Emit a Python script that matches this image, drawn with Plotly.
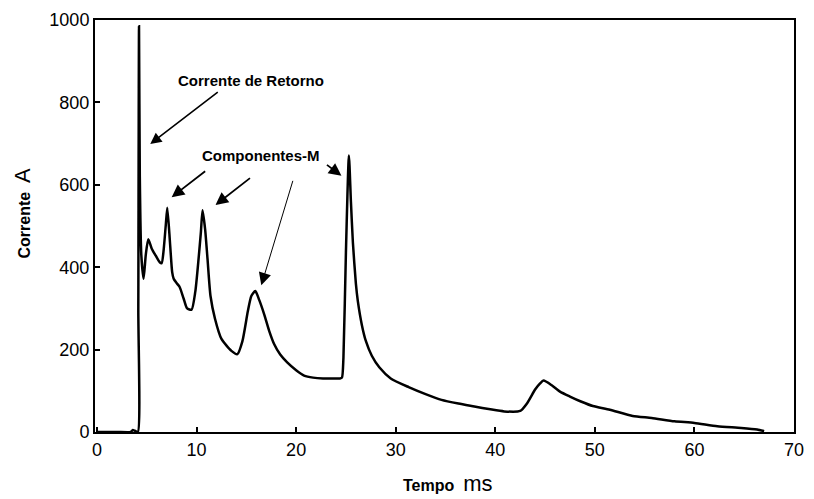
import plotly.graph_objects as go

# Time (ms) and current (A)
tempo_ms = [0.0, 2.0, 3.4, 3.6, 3.8, 4.1, 4.15, 4.22, 4.3, 4.45, 4.68, 4.9, 5.15, 5.5, 5.9, 6.3, 6.5,
            6.67, 6.9, 7.06, 7.33, 7.55, 7.7, 8.05, 8.3, 8.7, 9.05, 9.5, 9.87, 10.2, 10.43, 10.6,
            10.86, 11.1, 11.4, 11.85, 12.5, 13.5, 14.1, 14.6, 15.15, 15.5, 15.9, 16.3, 16.8, 17.3,
            17.8, 18.4, 19.1, 20.0, 20.8, 21.7, 22.7, 23.6, 24.4, 24.6, 24.75, 25.0, 25.3, 25.5,
            25.7, 26.0, 26.2, 26.6, 27.0, 27.6, 28.35, 29.5, 31.3, 33.0, 34.6, 36.3, 37.9, 39.5,
            40.9, 42.5, 43.2, 44.0, 44.5, 44.85, 45.7, 46.5, 47.5, 48.6, 49.8, 51.5, 53.8, 55.7,
            58.0, 60.0, 62.3, 64.7, 66.3, 67.0]
corrente_a = [0, 0, 0, 5, 3, 0, 300, 985, 620, 430, 372, 430, 468, 445, 428, 412, 410,
              436, 500, 544, 460, 388, 372, 360, 352, 324, 300, 297, 340, 420, 484, 538,
              492, 420, 330, 275, 226, 197, 189, 220, 293, 330, 342, 320, 285, 245,
              213, 188, 169, 150, 137, 132, 130, 130, 130, 132, 180, 436, 671, 560,
              460, 360, 317, 260, 221, 185, 157, 130, 109, 92, 78, 69, 62, 55,
              50, 51, 70, 103, 118, 125, 113, 98, 86, 74, 63, 54, 39, 34,
              26, 22, 14, 10, 6, 2]

x_ticks = [0, 10, 20, 30, 40, 50, 60, 70]
y_ticks = [0, 200, 400, 600, 800, 1000]

label_retorno = "Corrente de Retorno"
label_m = "Componentes-M"

fig = go.Figure()
fig.add_trace(go.Scatter(x=tempo_ms, y=corrente_a, mode="lines",
                         line=dict(color="black", width=2.5, shape="spline", smoothing=0.6),
                         showlegend=False, hoverinfo="skip"))

tick_font = dict(family="Liberation Sans, Arial, sans-serif", size=18, color="black")
fig.update_xaxes(range=[-0.2, 70], tickvals=x_ticks, ticks="inside", ticklen=5, tickwidth=1.5,
                 tickcolor="black", showline=True, linecolor="black", linewidth=2, mirror=True,
                 showgrid=False, zeroline=False, tickfont=tick_font)
fig.update_yaxes(range=[0, 1000], tickvals=y_ticks, ticks="inside", ticklen=5, tickwidth=1.5,
                 tickcolor="black", showline=True, linecolor="black", linewidth=2, mirror=True,
                 showgrid=False, zeroline=False, tickfont=tick_font)

ann_font = dict(family="Liberation Sans, Arial, sans-serif", size=15, color="black")
annotations = [
    dict(x=15.5, y=854, text="<b>" + label_retorno + "</b>", showarrow=False, font=ann_font),
    dict(x=16.5, y=670, text="<b>" + label_m + "</b>", showarrow=False, font=ann_font),
    # arrows
    dict(x=5.35, y=699, ax=69, ay=-53, text="", showarrow=True, arrowhead=2, arrowsize=1.4,
         arrowwidth=1.6, arrowcolor="black", standoff=0),
    dict(x=7.5, y=570, ax=35, ay=-27, text="", showarrow=True, arrowhead=2, arrowsize=1.4,
         arrowwidth=1.8, arrowcolor="black", standoff=0),
    dict(x=11.9, y=551, ax=36, ay=-28, text="", showarrow=True, arrowhead=2, arrowsize=1.4,
         arrowwidth=1.8, arrowcolor="black", standoff=0),
    dict(x=16.5, y=356, ax=32, ay=-106, text="", showarrow=True, arrowhead=2, arrowsize=2.5,
         arrowwidth=1.0, arrowcolor="black", standoff=0),
    dict(x=24.55, y=622, ax=-16, ay=-12, text="", showarrow=True, arrowhead=2, arrowsize=1.4,
         arrowwidth=1.8, arrowcolor="black", standoff=0),
    # axis titles
    dict(xref="paper", yref="paper", x=0.505, y=-0.125, xanchor="center", yanchor="middle",
         text="<b>Tempo</b>  <span style='font-size:22px'>ms</span>", showarrow=False,
         font=dict(family="Liberation Sans, Arial, sans-serif", size=16, color="black")),
    dict(xref="paper", yref="paper", x=-0.104, y=0.531, xanchor="center", yanchor="middle",
         textangle=-90,
         text="<b>Corrente</b>  <span style='font-size:22px'>A</span>", showarrow=False,
         font=dict(family="Liberation Sans, Arial, sans-serif", size=16, color="black")),
]

fig.update_layout(width=814, height=499, margin=dict(l=95, r=10, t=14, b=67),
                  paper_bgcolor="white", plot_bgcolor="white", annotations=annotations)

fig.write_html("out.html")
